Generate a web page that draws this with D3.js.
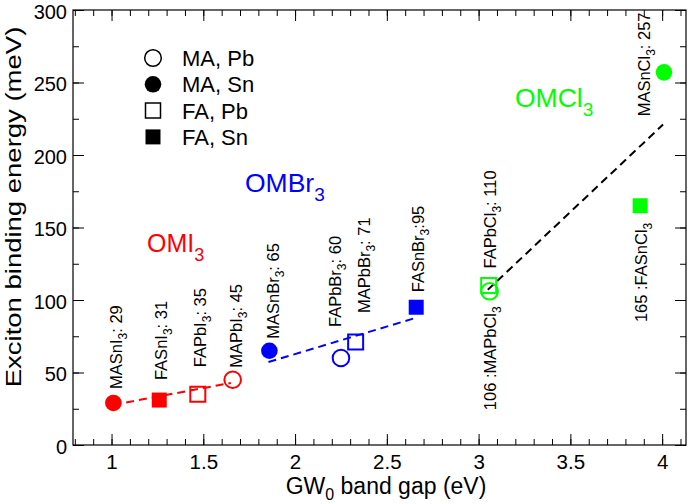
<!DOCTYPE html>
<html>
<head>
<meta charset="utf-8">
<script src="https://cdn.jsdelivr.net/npm/d3@7"></script>
<style>
  body { margin: 0; background: #fff; }
  text { font-family: "Liberation Sans", Arial, Helvetica, sans-serif; }
</style>
</head>
<body>
<div id="chart"></div>
<script>
// compounds (subscript 3 added when drawing)
const compounds = ["MASnI", "FASnI", "FAPbI", "MAPbI", "MASnBr", "FAPbBr", "MAPbBr", "FASnBr", "MAPbCl", "FAPbCl", "FASnCl", "MASnCl"];
const gapEV = [1.01, 1.26, 1.47, 1.66, 1.86, 2.25, 2.33, 2.66, 3.06, 3.055, 3.88, 4.01];
const bindingMeV = [29, 31, 35, 45, 65, 60, 71, 95, 106, 110, 165, 257];
// marker as drawn in the figure
const markerShape = ["circle", "square", "square", "circle", "circle", "circle", "square", "square", "circle", "square", "square", "circle"];
const markerFilled = [true, true, false, false, true, false, false, true, false, false, true, true];
// text after the name, or before it for the two labels written "165 :FASnCl3"
const labelSuffix = [": 29", ": 31", ": 35", ": 45", ": 65", ": 60", ": 71", ":95", "", ": 110", "", ": 257"];
const labelPrefix = ["", "", "", "", "", "", "", "", "106 :", "", "165 :", ""];

// dashed fit lines per halide
const fitIx = [1.01, 1.65], fitIy = [27.7, 42.8];
const fitBrx = [1.855, 2.655], fitBry = [57.2, 87.6];
const fitClx = [3.05, 4.005], fitCly = [107, 221];

const groupNames = ["OMI", "OMBr", "OMCl"];
const legendNames = ["MA, Pb", "MA, Sn", "FA, Pb", "FA, Sn"];

const xTicks = [1, 1.5, 2, 2.5, 3, 3.5, 4];
const yTicks = [0, 50, 100, 150, 200, 250, 300];

// layout only: label offsets from the point (px)
const labelDx = [9, 8, 8, 9, 10, 0, 14, 8, 6, 7, 7, -14];
const labelDy = [-14, -20, -27, -12, -12, -31, -29, -15, 15, -17, 17, 44];

const colorOf = { I: "#ff0000", Br: "#0000ff", Cl: "#00ff00" };
const halide = c => c.replace(/^(MA|FA)(Sn|Pb)/, "");

const width = 697, height = 504;
const margin = { top: 10, left: 73, right: 11, bottom: 59 };

const svg = d3.select("#chart").append("svg")
    .attr("width", width)
    .attr("height", height);

const x = d3.scaleLinear().domain([0.79, 4.13]).range([margin.left, width - margin.right]);
const y = d3.scaleLinear().domain([0, 300]).range([height - margin.bottom, margin.top]);

const xMinor = d3.range(0.8, 4.15, 0.1).map(d => +d.toFixed(2));
const yMinor = d3.range(0, 301, 25);

// axes with inward ticks, mirrored on top and right
const axBottom = svg.append("g").attr("transform", `translate(0,${y(0)})`);
axBottom.call(d3.axisBottom(x).tickValues(xMinor).tickSize(-6).tickFormat(""));
axBottom.append("g").call(d3.axisBottom(x).tickValues(xTicks).tickSize(-11).tickPadding(9).tickFormat(d => d));

const axTop = svg.append("g").attr("transform", `translate(0,${y(300)})`);
axTop.call(d3.axisTop(x).tickValues(xMinor).tickSize(-6).tickFormat(""));
axTop.append("g").call(d3.axisTop(x).tickValues(xTicks).tickSize(-11).tickFormat(""));

const axLeft = svg.append("g").attr("transform", `translate(${x.range()[0]},0)`);
axLeft.call(d3.axisLeft(y).tickValues(yMinor).tickSize(-6).tickFormat(""));
axLeft.append("g").attr("class", "ylab").call(d3.axisLeft(y).tickValues(yTicks).tickSize(-11).tickPadding(6));

const axRight = svg.append("g").attr("transform", `translate(${x.range()[1]},0)`);
axRight.call(d3.axisRight(y).tickValues(yMinor).tickSize(-6).tickFormat(""));
axRight.append("g").call(d3.axisRight(y).tickValues(yTicks).tickSize(-11).tickFormat(""));

svg.selectAll(".domain").remove();
svg.selectAll(".tick line").attr("stroke", "#000").attr("stroke-width", 1);
svg.selectAll(".tick text").attr("font-size", 20.5).attr("fill", "#000");
svg.selectAll(".ylab .tick text").attr("font-size", 20).attr("dy", "0.42em");

svg.append("rect")
    .attr("x", x.range()[0]).attr("y", y.range()[1])
    .attr("width", x.range()[1] - x.range()[0])
    .attr("height", y.range()[0] - y.range()[1])
    .attr("fill", "none").attr("stroke", "#000").attr("stroke-width", 1.2);

// axis titles
svg.append("text")
    .attr("x", 386).attr("y", 494)
    .attr("text-anchor", "middle").attr("font-size", 23)
    .call(t => {
      t.append("tspan").text("GW");
      t.append("tspan").attr("font-size", 16).attr("dy", 6).text("0");
      t.append("tspan").attr("dy", -6).text(" band gap (eV)");
    });

svg.append("text")
    .attr("transform", "translate(21,207) rotate(-90) scale(1.25,1)")
    .attr("text-anchor", "middle").attr("font-size", 22)
    .text("Exciton binding energy (meV)");

// fit lines
const line = d3.line().x(d => x(d[0])).y(d => y(d[1]));
[[fitIx, fitIy, colorOf.I], [fitBrx, fitBry, colorOf.Br], [fitClx, fitCly, "#000"]].forEach(([xs, ys, col]) => {
  svg.append("path")
      .datum(xs.map((v, i) => [v, ys[i]]))
      .attr("d", line)
      .attr("fill", "none")
      .attr("stroke", col)
      .attr("stroke-width", 2)
      .attr("stroke-dasharray", "8,5");
});

// points
const pts = compounds.map((c, i) => ({ c, gap: gapEV[i], e: bindingMeV[i], i }));
const circleSym = d3.symbol().type(d3.symbolCircle).size(Math.PI * 8.3 * 8.3);
const squareSym = d3.symbol().type(d3.symbolSquare).size(15 * 15);

svg.append("g").selectAll("path")
  .data(pts)
  .join("path")
    .attr("transform", d => `translate(${x(d.gap)},${y(d.e)})`)
    .attr("d", d => markerShape[d.i] === "circle" ? circleSym() : squareSym())
    .attr("fill", d => markerFilled[d.i] ? colorOf[halide(d.c)] : "none")
    .attr("stroke", d => colorOf[halide(d.c)])
    .attr("stroke-width", d => markerFilled[d.i] ? 0 : 2);

// point labels, rotated
svg.append("g").selectAll("text")
  .data(pts)
  .join("text")
    .attr("transform", d => `translate(${x(d.gap) + labelDx[d.i]},${y(d.e) + labelDy[d.i]}) rotate(-90)`)
    .attr("text-anchor", d => labelPrefix[d.i] ? "end" : "start")
    .attr("font-size", 16.5)
    .each(function(d) {
      const t = d3.select(this);
      t.append("tspan").text(labelPrefix[d.i] + d.c);
      t.append("tspan").attr("font-size", 12).attr("dy", 5).text("3");
      t.append("tspan").attr("dy", -5).text(labelSuffix[d.i]);
    });

// group labels
const groupPos = [[147, 252], [245, 192], [515, 107]];
const groupSize = [25, 26.5, 26.5];
const groupCol = [colorOf.I, colorOf.Br, colorOf.Cl];
groupNames.forEach((n, i) => {
  svg.append("text")
      .attr("x", groupPos[i][0]).attr("y", groupPos[i][1])
      .attr("font-size", groupSize[i]).attr("fill", groupCol[i])
      .call(t => {
        t.append("tspan").text(n);
        t.append("tspan").attr("font-size", groupSize[i] * 0.72).attr("dy", 9).text("3");
      });
});

// legend
const legend = svg.append("g").attr("transform", "translate(153,58)");
legendNames.forEach((n, i) => {
  const row = legend.append("g").attr("transform", `translate(0,${i * 26.3})`);
  row.append("path")
      .attr("d", i < 2 ? circleSym() : squareSym())
      .attr("fill", i % 2 ? "#000" : "none")
      .attr("stroke", "#000")
      .attr("stroke-width", i % 2 ? 0 : 1.5);
  row.append("text")
      .attr("x", 29).attr("y", 8)
      .attr("font-size", 22)
      .text(n);
});
</script>
</body>
</html>
